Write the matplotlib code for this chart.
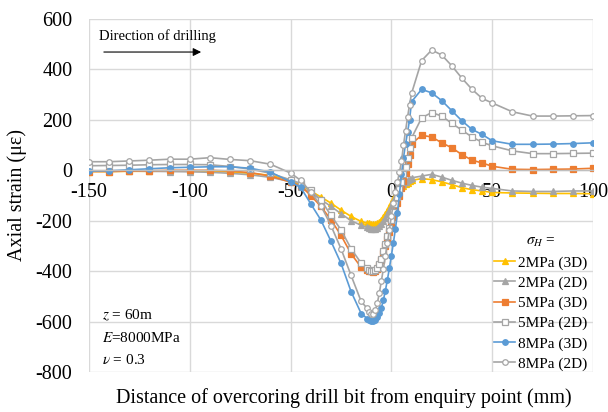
import matplotlib
matplotlib.use("Agg")
import matplotlib.pyplot as plt

plt.rcParams['font.family'] = ['Liberation Serif', 'DejaVu Serif']
plt.rcParams['mathtext.fontset'] = 'stix'
plt.rcParams['axes.unicode_minus'] = False

# ---- data ----
x = [-150, -140, -130, -120, -110, -100, -90, -80, -70, -60,
     -50, -45, -40, -35, -30, -25, -20, -15,
     -12, -11, -10, -9, -8, -7, -6, -5, -4, -3, -2, -1, 0, 1, 2, 3, 4, 5, 6, 7, 8, 9, 10,
     15, 20, 25, 30, 35, 40, 45, 50,
     60, 70, 80, 90, 100]

s2_3d = [-5, -5, -4, -4, -3, -3, -4, -7, -12, -20,
         -38, -58, -82, -106, -130, -158, -183, -203,
         -209, -211, -212, -213, -212, -209, -204, -197, -187, -174, -160, -145, -128, -112, -98, -86, -76, -68, -61, -55, -49, -44, -40,
         -33, -37, -46, -57, -69, -77, -82, -88,
         -90, -91, -92, -92, -93]

s2_2d = [-2, -2, -3, -4, -5, -6, -8, -12, -18, -28,
         -45, -65, -90, -116, -143, -172, -200, -218,
         -226, -229, -231, -232, -231, -228, -222, -214, -203, -190, -175, -159, -142, -124, -107, -91, -77, -65, -55, -47, -40, -34, -30,
         -23, -16, -27, -40, -51, -60, -67, -72,
         -82, -84, -84, -82, -82]

s5_3d = [-5, -5, -3, -2, 0, 0, 0, -3, -9, -23,
         -47, -62, -100, -143, -196, -258, -331, -385,
         -396, -399, -401, -402, -399, -391, -377, -357, -330, -301, -272, -243, -214, -185, -157, -128, -100, -72, -42, -10, 25, 62, 105,
         139, 132, 109, 89, 62, 40, 29, 16,
         4, 3, 4, 5, 8]

s5_2d = [18, 19, 20, 22, 23, 23, 22, 15, 5, -12,
         -38, -52, -80, -117, -179, -236, -311, -368,
         -388, -394, -398, -400, -397, -388, -372, -350, -322, -292, -261, -230, -198, -166, -135, -104, -74, -45, -15, 15, 48, 88, 128,
         208, 229, 215, 186, 159, 132, 111, 97,
         77, 66, 66, 67, 68]

s8_3d = [-3, -2, 2, 6, 10, 12, 14, 14, 8, -7,
         -46, -68, -133, -197, -281, -369, -481, -568,
         -588, -594, -597, -597, -592, -582, -567, -546, -515, -478, -435, -388, -338, -287, -232, -170, -95, -15, 50, 103, 150, 200, 272,
         321, 307, 276, 236, 196, 162, 142, 117,
         103, 103, 104, 106, 109]

s8_2d = [34, 34, 37, 40, 44, 44, 50, 43, 38, 24,
         -11, -40, -86, -140, -219, -311, -417, -520,
         -548, -562, -570, -568, -556, -528, -487, -440, -392, -340, -290, -235, -180, -130, -85, -45, -8, 35, 100, 155, 210, 260, 305,
         435, 477, 457, 414, 365, 321, 285, 267,
         232, 215, 215, 216, 217]

labels = ['2MPa (3D)', '2MPa (2D)', '5MPa (3D)', '5MPa (2D)', '8MPa (3D)', '8MPa (2D)']
series = [s2_3d, s2_2d, s5_3d, s5_2d, s8_3d, s8_2d]

YEL = '#FFC000'
GRY = '#A5A5A5'
ORG = '#ED7D31'
BLU = '#5B9BD5'
styles = [
    dict(color=YEL, marker='^', mfc=YEL, mec=YEL, ms=4.5),
    dict(color=GRY, marker='^', mfc=GRY, mec=GRY, ms=4),
    dict(color=ORG, marker='s', mfc=ORG, mec=ORG, ms=4),
    dict(color=GRY, marker='s', mfc='white', mec=GRY, ms=4),
    dict(color=BLU, marker='o', mfc=BLU, mec=BLU, ms=4),
    dict(color=GRY, marker='o', mfc='white', mec=GRY, ms=4),
]

fig = plt.figure(figsize=(6.08, 4.12), dpi=100)
ax = fig.add_axes([89/608, 1-372/412, (593-89)/608, (372-19)/412])

for s, lab, st in zip(series, labels, styles):
    ax.plot(x, s, lw=1.2, label=lab, mew=0.9, **st)

ax.set_xlim(-150, 100)
ax.set_ylim(-800, 600)
ax.set_xticks([-150, -100, -50, 0, 50, 100])
ax.set_yticks(range(-800, 601, 200))
ax.grid(True, color='#D9D9D9', lw=1.0)
ax.set_axisbelow(True)
for sp in ['top', 'right', 'left']:
    ax.spines[sp].set_visible(False)
ax.spines['bottom'].set_position(('data', 0))
ax.spines['bottom'].set_color('#BFBFBF')
ax.spines['bottom'].set_linewidth(1.0)
ax.tick_params(axis='both', length=0, labelsize=14.5)
ax.tick_params(axis='y', pad=12)
ax.tick_params(axis='x', pad=9)

fig.text(17/608, 1-195/412, 'Axial strain (με)', rotation=90, ha='center', va='center', fontsize=14.5)
fig.text(344/608, 1-398/412, 'Distance of overcoring drill bit from enquiry point (mm)',
         ha='center', va='center', fontsize=14.5)

ax.text(-145, 533, 'Direction of drilling', ha='left', va='center', fontsize=10.5)
ax.annotate('', xy=(-93, 469), xytext=(-144, 469),
            arrowprops=dict(arrowstyle='-|>', color='black', lw=0.8, mutation_scale=12))

ax.text(-143.6, -577, r'$z$ = 60m', ha='left', va='center', fontsize=11)
ax.text(-143.6, -664, r'$E$=8000MPa', ha='left', va='center', fontsize=11)
ax.text(-143.6, -751, r'$\nu$ = 0.3', ha='left', va='center', fontsize=11)

leg = ax.legend(loc='lower left', bbox_to_anchor=(494/608, 1-371/412), bbox_transform=fig.transFigure,
                frameon=False, fontsize=11, title=r'$\sigma_H$ =', title_fontsize=11,
                handlelength=1.4, handletextpad=0.2, labelspacing=0.42, borderpad=0, borderaxespad=0)

fig.savefig('out.png', dpi=100)
